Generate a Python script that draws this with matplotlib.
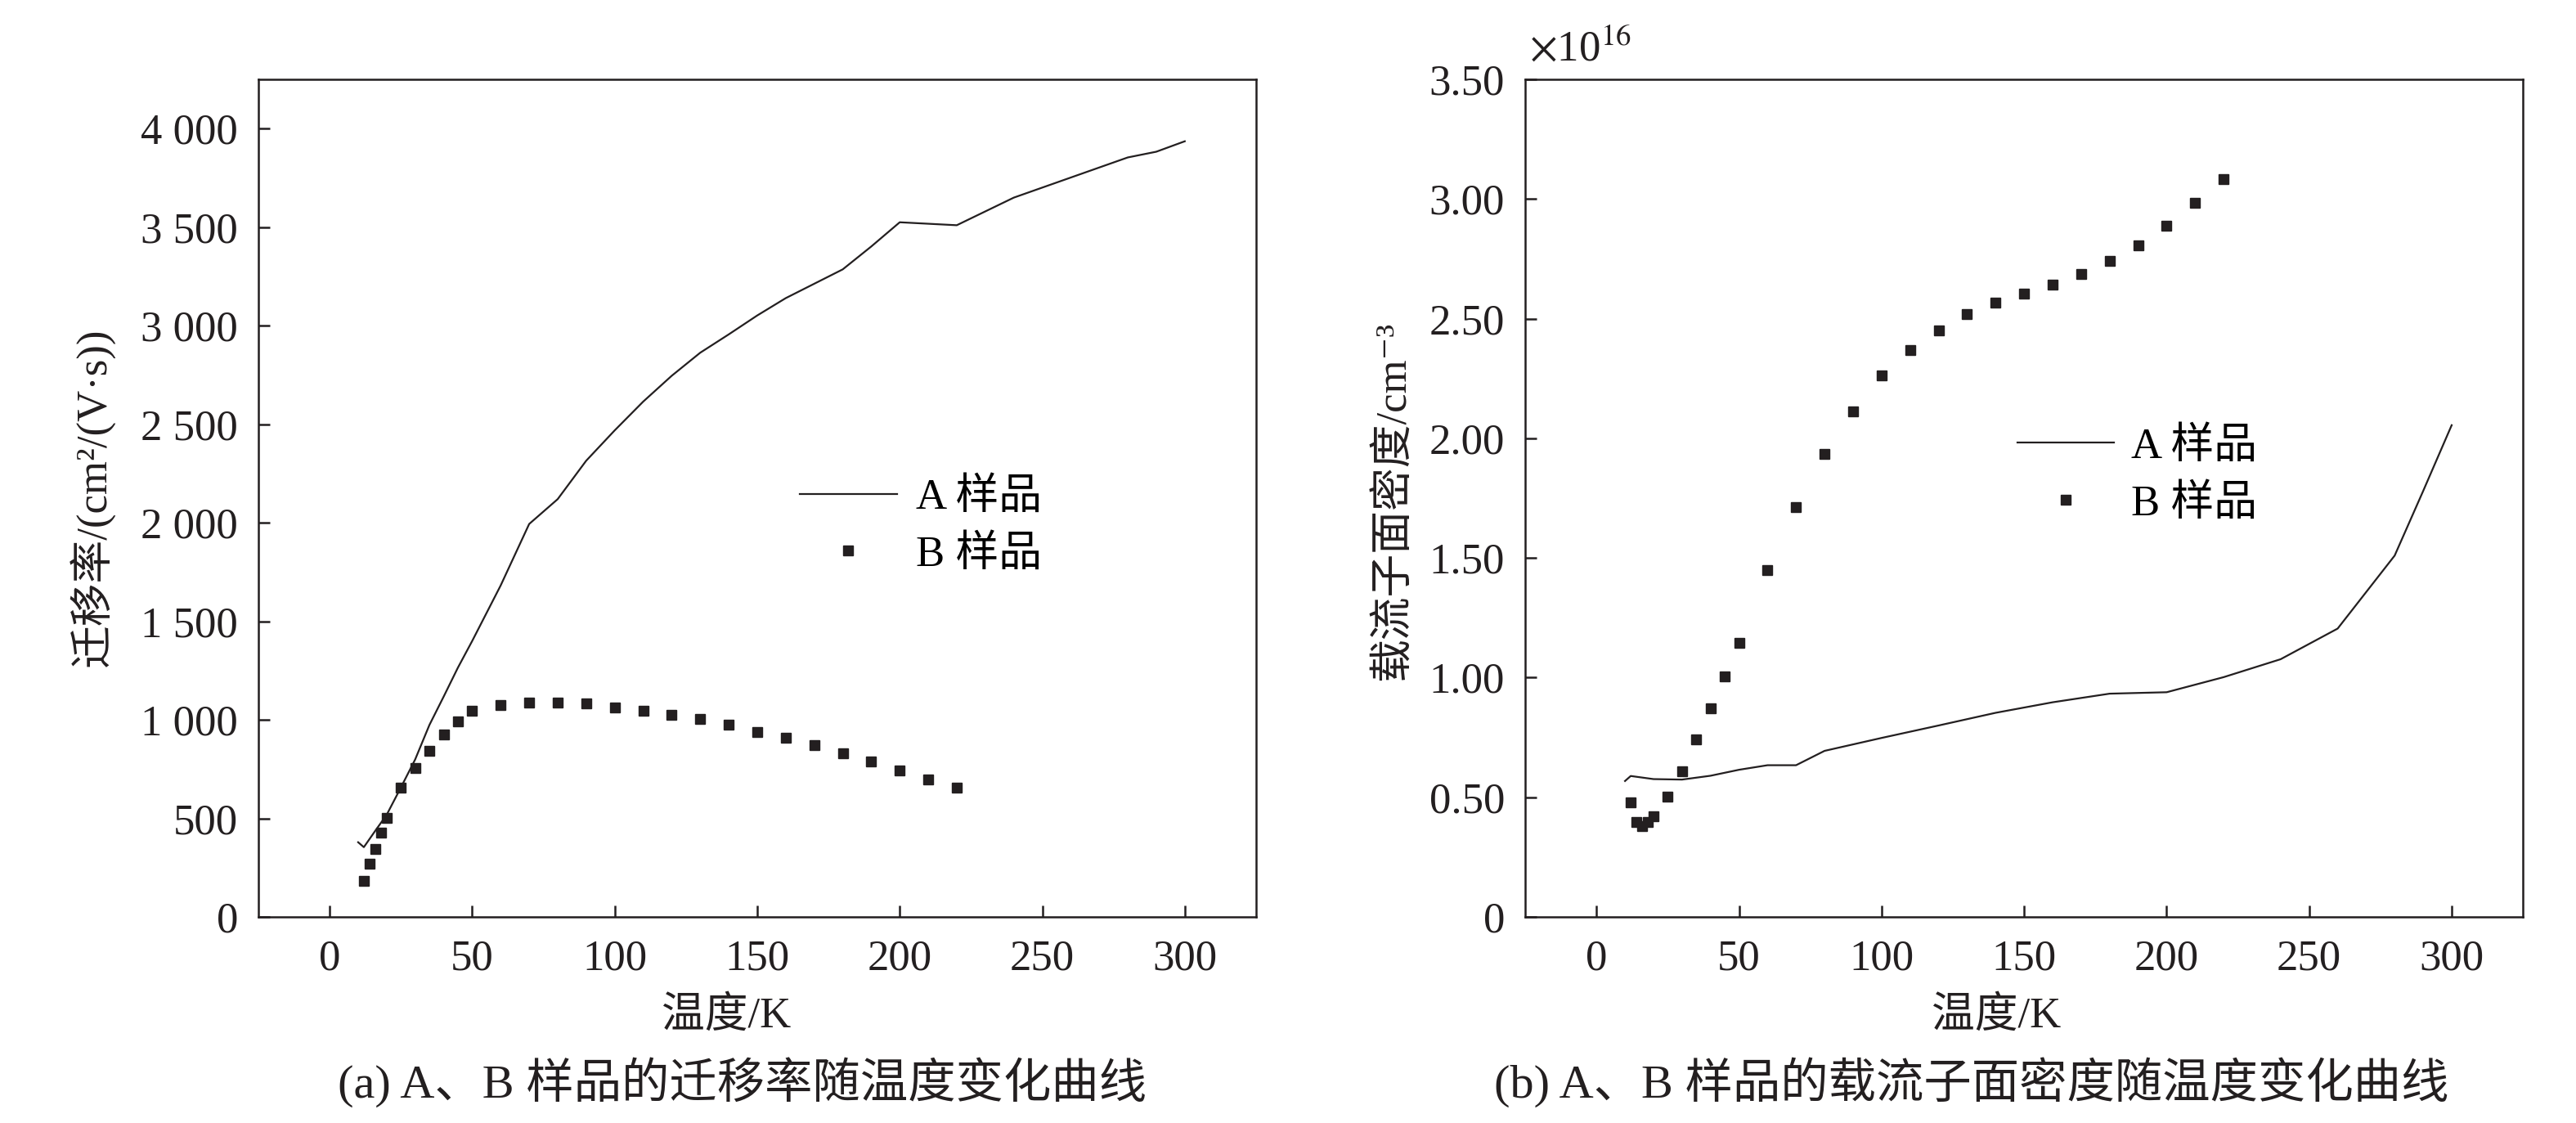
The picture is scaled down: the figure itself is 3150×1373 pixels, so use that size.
import numpy as np
import matplotlib
matplotlib.use("Agg")
import matplotlib.pyplot as plt

# fonts: Times-like latin, CJK fallback
plt.rcParams['font.family'] = ['Liberation Serif', 'Noto Sans CJK SC', 'DejaVu Sans']
plt.rcParams['mathtext.fontset'] = 'stix'

'''DATA'''
# (a) mobility, cm^2/(V s)
T_mob_a = [10, 12, 16, 20, 25, 30, 35, 40, 45, 50, 60, 70, 80, 90, 100, 110, 120,
           130, 140, 150, 160, 170, 180, 190, 200, 220, 240, 260, 280, 290, 300]
mob_a = [379, 354, 437, 518, 657, 799, 974, 1118, 1265, 1400, 1682, 1994, 2120,
         2315, 2469, 2615, 2746, 2863, 2956, 3052, 3140, 3213, 3286, 3402, 3525,
         3510, 3650, 3752, 3854, 3883, 3936]

T_mob_b = [12, 14, 16, 18, 20, 25, 30, 35, 40, 45, 50, 60, 70, 80, 90, 100, 110,
           120, 130, 140, 150, 160, 170, 180, 190, 200, 210, 220]
mob_b = [182, 268, 345, 428, 501, 654, 754, 843, 924, 994, 1046, 1074, 1087, 1087,
         1085, 1064, 1047, 1026, 1003, 974, 939, 910, 872, 831, 787, 743, 697, 656]

# (b) sheet carrier density, x1e16 cm^-3
T_n_a = [10, 12, 20, 30, 40, 50, 60, 70, 80, 100, 120, 140, 160, 180, 200, 220,
         240, 260, 280, 290, 300]
n_a = [0.568, 0.589, 0.576, 0.574, 0.590, 0.615, 0.634, 0.634, 0.694, 0.748, 0.800,
       0.853, 0.897, 0.933, 0.939, 1.002, 1.077, 1.205, 1.510, 1.780, 2.055]

T_n_b = [12, 14, 16, 18, 20, 25, 30, 35, 40, 45, 50, 60, 70, 80, 90, 100, 110,
         120, 130, 140, 150, 160, 170, 180, 190, 200, 210, 220]
n_b = [0.479, 0.395, 0.380, 0.395, 0.419, 0.503, 0.610, 0.742, 0.873, 1.005, 1.146,
       1.448, 1.714, 1.935, 2.112, 2.264, 2.369, 2.450, 2.519, 2.567, 2.605, 2.641,
       2.686, 2.740, 2.806, 2.890, 2.985, 3.084]

x_ticks = [0, 50, 100, 150, 200, 250, 300]
mob_ticks = [0, 500, 1000, 1500, 2000, 2500, 3000, 3500, 4000]
mob_labels = ['0', '500', '1 000', '1 500', '2 000', '2 500', '3 000', '3 500', '4 000']
n_ticks = [0, 0.5, 1.0, 1.5, 2.0, 2.5, 3.0, 3.5]
n_labels = ['0', '0.50', '1.00', '1.50', '2.00', '2.50', '3.00', '3.50']

labels = ['A 样品', 'B 样品']

'''PLOT'''
col = '#231f20'
fs = 38

fig = plt.figure(figsize=(31.5, 13.73), dpi=100)
ax1 = fig.add_axes([0.1003, 0.1835, 0.3873, 0.7458])
ax2 = fig.add_axes([0.5921, 0.1835, 0.3873, 0.7458])

la, = ax1.plot(T_mob_a, mob_a, '-', color=col, lw=1.6)
lb, = ax1.plot(T_mob_b, mob_b, 's', color=col, ms=9, ls='none')
ax1.set_ylim(0, 4250)
ax1.set_yticks(mob_ticks)
ax1.set_yticklabels(mob_labels)

ra, = ax2.plot(T_n_a, n_a, '-', color=col, lw=1.6)
rb, = ax2.plot(T_n_b, n_b, 's', color=col, ms=9, ls='none')
ax2.set_ylim(0, 3.5)
ax2.set_yticks(n_ticks)
ax2.set_yticklabels(n_labels)

for ax in (ax1, ax2):
    ax.set_xlim(-25, 325)
    ax.set_xticks(x_ticks)
    for s in ax.spines.values():
        s.set_linewidth(1.8)
        s.set_color(col)
    ax.tick_params(direction='in', length=10, width=1.8, color=col,
                   labelsize=fs, labelcolor=col)
    ax.tick_params(axis='y', pad=18)
    ax.tick_params(axis='x', pad=20)

ax1.legend([la, lb], labels, loc='center left', bbox_to_anchor=(0.5426, 0.4663),
           frameon=False, fontsize=fs, handlelength=2.25, handletextpad=0.45,
           labelspacing=0.4, borderpad=0, borderaxespad=0)
ax2.legend([ra, rb], labels, loc='center left', bbox_to_anchor=(0.493, 0.527),
           frameon=False, fontsize=fs, handlelength=2.25, handletextpad=0.4,
           labelspacing=0.4, borderpad=0, borderaxespad=0)

# axis labels and captions (unicode super/subscripts keep the CJK fallback)
fig.text(113 / 3150, 1 - 608 / 1373, '迁移率/(cm²/(V·s))', rotation=90,
         ha='center', va='center', fontsize=fs, color=col)
fig.text(1703 / 3150, 1 - 612 / 1373, '载流子面密度/cm⁻³', rotation=90,
         ha='center', va='center', fontsize=fs, color=col)
fig.text(888 / 3150, 1 - 1242 / 1373, '温度/K', ha='center', va='center',
         fontsize=fs, color=col)
fig.text(2441 / 3150, 1 - 1242 / 1373, '温度/K', ha='center', va='center',
         fontsize=fs, color=col)
fig.text(908 / 3150, 1 - 1323 / 1373, '(a) A、B 样品的迁移率随温度变化曲线',
         ha='center', va='center', fontsize=42, color=col)
fig.text(2411 / 3150, 1 - 1323 / 1373, '(b) A、B 样品的载流子面密度随温度变化曲线',
         ha='center', va='center', fontsize=42, color=col)
fig.text(1870 / 3150, 1 - 75 / 1373, r'$\times$10$^{16}$', ha='left',
         va='baseline', fontsize=fs, color=col)

fig.savefig('out.png', dpi=100)
